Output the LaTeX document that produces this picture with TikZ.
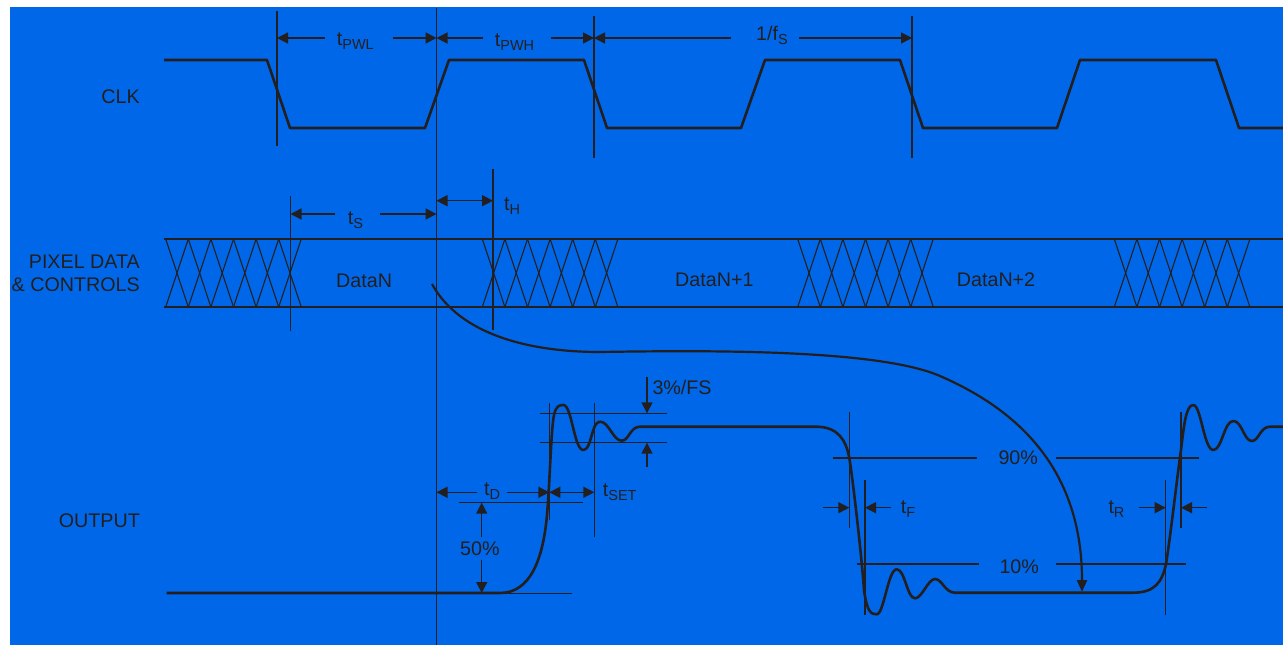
\documentclass[tikz,border=0pt]{standalone}
\usepackage{fontspec}
\setmainfont{Liberation Sans}
\usetikzlibrary{arrows.meta}
\definecolor{bgblue}{RGB}{0,103,232}
\definecolor{ink}{RGB}{35,31,32}
\newcommand\lblfont{\fontsize{19.7}{23.4}\selectfont}
\newcommand\subs[1]{\raisebox{-4.5pt}{\fontsize{14.5}{14.5}\selectfont #1}}
\tikzset{
  sig/.style={draw=ink, line width=2.6pt, line join=round},
  thin/.style={draw=ink, line width=1.2pt},
  hatch/.style={draw=ink, line width=1.1pt},
  dim/.style={draw=ink, line width=1.5pt, -{Triangle[length=11pt,width=11pt]}},
  dimboth/.style={draw=ink, line width=1.5pt, {Triangle[length=11pt,width=11pt]}-{Triangle[length=11pt,width=11pt]}},
  lbl/.style={text=ink, inner sep=0pt, anchor=base west, font=\lblfont},
  lblr/.style={text=ink, inner sep=0pt, anchor=base east, font=\lblfont},
}
\begin{document}
\begin{tikzpicture}[x=1pt,y=-1pt]
\useasboundingbox (0,0) rectangle (1283,645);
\fill[white] (0,0) rectangle (1283,645);
\fill[bgblue] (10,7) rectangle (1283,645);

% reference coordinates
\coordinate (vA) at (436.5,8);
\coordinate (vAb) at (436.5,645);

% long vertical line
\draw[thin] (vA) -- (vAb);
% clk verticals
\draw[thin] (277,11) -- (277,146);
\draw[thin] (594,16) -- (594,158);
\draw[thin] (912,16) -- (912,158);
% data verticals
\draw[thin] (290.5,196) -- (290.5,331);
\draw[thin] (493,169) -- (493,330);

% CLK waveform
\draw[sig] (164,60) -- (267,60) -- (290,128) -- (425,128) -- (449,60) -- (584,60) -- (607,128)
  -- (741,128) -- (765,60) -- (900,60) -- (923,128) -- (1057,128) -- (1080,60) -- (1216,60)
  -- (1239,128) -- (1283,128);

% data rails
\draw[sig] (164,239) -- (1283,239);
\draw[sig] (164,307) -- (1283,307);
% hatches
\foreach \xo in {165.7,482.3,797.7,1114.3}{
  \foreach \i in {0,...,5}{
    \draw[hatch] ({\xo+\i*22.6},239) -- ({\xo+(\i+1)*22.6},307);
    \draw[hatch] ({\xo+(\i+1)*22.6},239) -- ({\xo+\i*22.6},307);
  }
}

% labels left
\node[lblr] (clk) at (140,103.3) {CLK};
\node[lblr] (pix1) at (140,268.3) {PIXEL DATA};
\node[lblr] (pix2) at (140,291.7) {\& CONTROLS};
\node[lblr] (out) at (140,527) {OUTPUT};

% data labels
\node[lbl] (dn) at (336,287) {DataN};
\node[lbl] (dn1) at (675,286) {DataN+1};
\node[lbl] (dn2) at (956.7,286) {DataN+2};

% timing labels
\node[lbl] (tpwl) at (336.7,45) {t\subs{PWL}};
\node[lbl] (tpwh) at (494.7,46) {t\subs{PWH}};
\node[lbl] (fs) at (756,40.3) {1/f\subs{S}};
\node[lbl] (ts) at (347.7,224) {t\subs{S}};
\node[lbl] (th) at (504,210) {t\subs{H}};
\node[lbl] (td) at (484,495) {t\subs{D}};
\node[lbl] (tset) at (602.7,496) {t\subs{SET}};
\node[lbl] (fsl) at (652.3,394) {3\%/FS};
\node[lbl] (p50) at (460,555) {50\%};
\node[lbl] (p90) at (998.3,464) {90\%};
\node[lbl] (p10) at (999.3,573.3) {10\%};
\node[lbl] (tf) at (900.7,513.3) {t\subs{F}};
\node[lbl] (tr) at (1108.3,513.3) {t\subs{R}};

% dimension arrows
\draw[dim] (325,38) -- (277,38);
\draw[dim] (393,38) -- (436.5,38);
\draw[dim] (483,38) -- (436.5,38);
\draw[dim] (551,38) -- (594,38);
\draw[dim] (731,38) -- (594,38);
\draw[dim] (799,38) -- (912,38);
\draw[dim] (335,214) -- (290.5,214);
\draw[dim] (380,214) -- (436.5,214);
\draw[dimboth] (436.5,200.7) -- (493,200.7);
\draw[dim] (476.7,492.3) -- (436.5,492.3);
\draw[dim] (506.7,492.3) -- (549.3,492.3);
\draw[dimboth] (549.3,492.3) -- (594.3,492.3);
\draw[dim] (823,507.7) -- (849.3,507.7);
\draw[dim] (891,507.7) -- (865,507.7);
\draw[dim] (1139,507.7) -- (1165.7,507.7);
\draw[dim] (1206.7,507.7) -- (1181,507.7);
\draw[dim] (647,376.7) -- (647,413.3);
\draw[dim] (647,467.3) -- (647,442.7);
\draw[dim] (481.7,537) -- (481.7,502.7);
\draw[dim] (481.7,560) -- (481.7,593);

% output reference lines
\draw[thin] (540,413.3) -- (667.3,413.3);
\draw[thin] (540,442.7) -- (667.3,442.7);
\draw[thin] (549.3,403) -- (549.3,520);
\draw[thin] (594.3,403) -- (594.3,536.7);
\draw[thin] (459.3,502.7) -- (583.3,502.7);
\draw[thin] (440,593.3) -- (572.3,593.3);
\draw[thin] (832.7,458) -- (976.7,458);
\draw[thin] (1056,458) -- (1199,458);
\draw[thin] (856.7,564) -- (979.3,564);
\draw[thin] (1056,564) -- (1185.7,564);
\draw[thin] (849.3,411.7) -- (849.3,527.7);
\draw[thin] (865,480) -- (865,615);
\draw[thin] (1165.7,480) -- (1165.7,615);
\draw[thin] (1181,411.7) -- (1181,527.7);

% output waveform
\draw[sig] (166.7,593) -- (500,593)
  .. controls (530,593) and (543,560) .. (547,515)
  .. controls (550,480) and (551,430) .. (554,415)
  .. controls (556,406) and (559,405) .. (563.3,405)
  .. controls (572,405) and (574,450) .. (583.3,450)
  .. controls (592,450) and (591,421.7) .. (600,421.7)
  .. controls (609,421.7) and (613,440.7) .. (621.7,440.7)
  .. controls (629,440.7) and (630,426.7) .. (640,426.7)
  -- (816,426.7)
  .. controls (838,426.7) and (846,440) .. (849.3,458)
  .. controls (853,480) and (862,560) .. (864,590)
  .. controls (867,612) and (871,614.3) .. (876.7,614.3)
  .. controls (884,614.3) and (888,569.3) .. (896.7,569.3)
  .. controls (905,569.3) and (907,598.3) .. (915,598.3)
  .. controls (922,598.3) and (928,579) .. (935,579)
  .. controls (942,579) and (945,592.7) .. (955,592.7)
  -- (1133,592.7)
  .. controls (1155,592.7) and (1162,582) .. (1166,564)
  .. controls (1170,540) and (1178,470) .. (1181,450)
  .. controls (1184,425) and (1186,405) .. (1193.3,405)
  .. controls (1201,405) and (1204,450) .. (1213.3,450)
  .. controls (1222,450) and (1224,421) .. (1233.3,421)
  .. controls (1242,421) and (1244,441) .. (1251.7,441)
  .. controls (1259,441) and (1260,426.7) .. (1270,426.7)
  -- (1283,426.7);

% propagation curve
\draw[draw=ink, line width=2.2pt, -{Triangle[length=12pt,width=10pt]}]
  (432,284) .. controls (460,335) and (530,352) .. (600,352)
  .. controls (720,350) and (880,350) .. (940,376)
  .. controls (1030,415) and (1082,480) .. (1082,592);
\end{tikzpicture}
\end{document}
